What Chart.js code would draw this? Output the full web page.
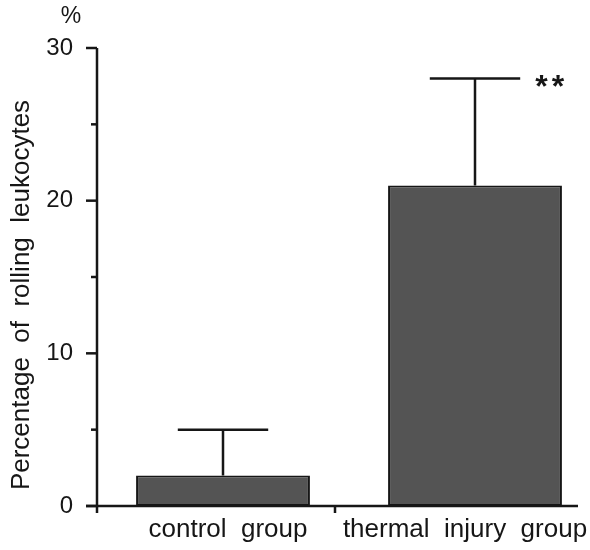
<!DOCTYPE html>
<html>
<head>
    <title>Rolling leukocytes</title>
    <script src="https://cdn.jsdelivr.net/npm/chart.js"></script>
    <style>
        body { margin: 0; overflow: hidden; background: #fff; }
        #wrap { width: 601px; height: 550px; }
    </style>
</head>
<body>
    <div id="wrap">
        <canvas id="rollingChart"></canvas>
    </div>

    <script>
    // данные
    const groups = ['control  group', 'thermal  injury  group'];
    const rollingPct = [2, 21];
    const rollingErr = [3, 7];
    const marks = ['', '**'];
    const yTicks = [0, 10, 20, 30];

    const FONT = '"Liberation Sans", Arial, Helvetica, sans-serif';
    const INK = '#161616';
    // в оригинале подписи чуть сдвинуты относительно столбиков
    const LABEL_SHIFT = [5, -10];

    // оси, планки погрешностей, подписи
    const decorPlugin = {
        id: 'decor',
        afterDatasetsDraw(chart) {
            const ctx = chart.ctx;
            const area = chart.chartArea;
            const x = chart.scales.x;
            const y = chart.scales.y;
            const meta = chart.getDatasetMeta(0);
            ctx.save();
            ctx.strokeStyle = INK;
            ctx.fillStyle = INK;
            ctx.lineCap = 'butt';

            // error bars
            ctx.lineWidth = 2.5;
            meta.data.forEach((bar, i) => {
                const top = y.getPixelForValue(rollingPct[i] + rollingErr[i]);
                const half = bar.width * 0.26;
                ctx.beginPath();
                ctx.moveTo(bar.x, bar.y);
                ctx.lineTo(bar.x, top);
                ctx.moveTo(bar.x - half, top);
                ctx.lineTo(bar.x + half, top);
                ctx.stroke();
                if (marks[i]) {
                    ctx.save();
                    ctx.font = 'bold 32px ' + FONT;
                    ctx.letterSpacing = '4px';
                    ctx.textAlign = 'left';
                    ctx.textBaseline = 'alphabetic';
                    ctx.fillText(marks[i], bar.x + half + 15, top + 18);
                    ctx.restore();
                }
                // category label
                ctx.font = '26px ' + FONT;
                ctx.textAlign = 'center';
                ctx.textBaseline = 'alphabetic';
                ctx.fillText(groups[i], x.getPixelForValue(i) + LABEL_SHIFT[i], area.bottom + 31);
            });

            // y axis
            ctx.lineWidth = 2.5;
            ctx.beginPath();
            ctx.moveTo(area.left, area.top);
            ctx.lineTo(area.left, area.bottom + 7);
            ctx.stroke();
            // y ticks (major / minor)
            y.ticks.forEach(t => {
                const py = y.getPixelForValue(t.value);
                const len = t.value % 10 === 0 ? 11 : 6;
                ctx.beginPath();
                ctx.moveTo(area.left - len, py);
                ctx.lineTo(area.left, py);
                ctx.stroke();
            });

            // x axis
            const mid = (x.getPixelForValue(0) + x.getPixelForValue(1)) / 2 - 14;
            ctx.beginPath();
            ctx.moveTo(area.left - 11, area.bottom);
            ctx.lineTo(area.right - 23, area.bottom);
            ctx.moveTo(mid, area.bottom);
            ctx.lineTo(mid, area.bottom + 7);
            ctx.stroke();

            // % and y title
            ctx.font = '23px ' + FONT;
            ctx.textAlign = 'center';
            ctx.textBaseline = 'middle';
            ctx.fillText('%', area.left - 26, 17);
            ctx.font = '26px ' + FONT;
            ctx.translate(22, 295);
            ctx.rotate(-Math.PI / 2);
            ctx.fillText('Percentage  of  rolling  leukocytes', 0, 0);
            ctx.restore();
        }
    };

    new Chart(document.getElementById('rollingChart'), {
        type: 'bar',
        data: {
            labels: groups,
            datasets: [{
                data: rollingPct,
                backgroundColor: '#545454',
                borderColor: INK,
                borderWidth: 2,
                borderSkipped: false,
                barPercentage: 0.69,
                categoryPercentage: 1
            }]
        },
        options: {
            responsive: true,
            maintainAspectRatio: false,
            animation: false,
            layout: { padding: { top: 48, right: 0, left: 0, bottom: 0 } },
            plugins: {
                legend: { display: false },
                tooltip: { enabled: false }
            },
            scales: {
                x: {
                    grid: { display: false, drawTicks: false },
                    border: { display: false },
                    ticks: { display: false },
                    afterFit(scale) { scale.height = 44; }
                },
                y: {
                    min: 0,
                    max: 30,
                    grid: { display: false, drawTicks: false },
                    border: { display: false },
                    ticks: {
                        stepSize: 5,
                        color: INK,
                        padding: 24,
                        font: { family: FONT, size: 24 },
                        callback: v => yTicks.includes(v) ? String(v) : ''
                    },
                    afterFit(scale) { scale.width = 97; }
                }
            }
        },
        plugins: [decorPlugin]
    });
    </script>
</body>
</html>
